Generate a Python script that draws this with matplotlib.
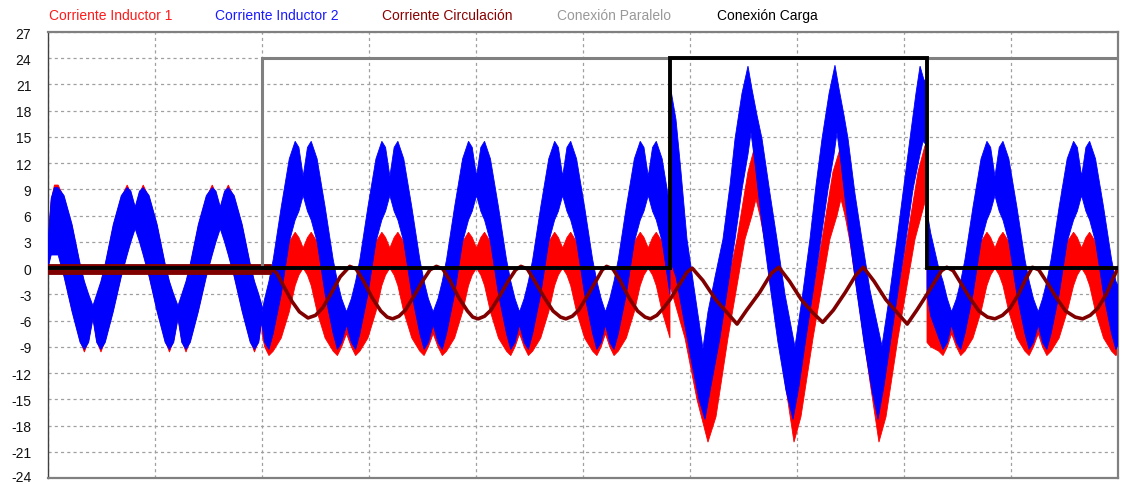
import numpy as np
import matplotlib
matplotlib.use("Agg")
import matplotlib.pyplot as plt
import matplotlib.transforms as mtransforms

plt.rcParams['font.family'] = ['Liberation Sans', 'DejaVu Sans']

# ---------------- data (time in arbitrary units, 10 per division) ----------------
series_names = ["Corriente Inductor 1", "Corriente Inductor 2", "Corriente Circulación",
                "Conexión Paralelo", "Conexión Carga"]
y_ticks = list(range(-24, 28, 3))

# Inductor 2 (blue) ripple envelope, before load connection
blue_t_AB = [0.0, 0.3, 0.6, 0.95, 1.5, 2.25, 3.0, 3.4, 3.8, 4.2,
             4.55, 4.95, 5.35, 6.1, 6.85, 7.4, 7.75, 8.15, 8.55, 8.9, 9.45, 10.2, 10.95, 11.35, 11.75, 12.15,
             12.5, 12.9, 13.3, 14.05, 14.8, 15.35, 15.7, 16.1, 16.5, 16.85, 17.4, 18.15, 18.9, 19.3, 19.7, 20.0,
             20.0, 20.25, 20.65, 21.05, 21.8, 22.55, 23.1, 23.45, 23.85, 24.25, 24.6, 25.15, 25.9, 26.65, 27.05, 27.45,
             27.9, 28.35, 28.75, 29.15, 29.9, 30.65, 31.2, 31.55, 31.95, 32.35, 32.7, 33.25, 34.0, 34.75, 35.15, 35.55,
             36.0, 36.45, 36.85, 37.25, 38.0, 38.75, 39.3, 39.65, 40.05, 40.45, 40.8, 41.35, 42.1, 42.85, 43.25, 43.65,
             44.07, 44.5, 44.9, 45.3, 46.05, 46.8, 47.35, 47.7, 48.1, 48.5, 48.85, 49.4, 50.15, 50.9, 51.3, 51.7,
             52.1, 52.5, 52.9, 53.3, 54.05, 54.8, 55.35, 55.7, 56.1, 56.5, 56.85, 57.4, 58.13]
blue_hi_AB = [3.0, 8.0, 9.2, 9.2, 8.3, 5.0, 0.5, -1.5, -3.0, -4.3,
              -3.0, -1.5, 0.5, 5.0, 8.3, 9.2, 8.8, 7.0, 8.8, 9.2, 8.3, 5.0, 0.5, -1.5, -3.0, -4.3,
              -3.0, -1.5, 0.5, 5.0, 8.3, 9.2, 8.8, 7.0, 8.8, 9.2, 8.3, 5.0, 0.5, -1.5, -3.0, -4.3,
              -5.0, -3.5, -1.5, 1.0, 7.0, 12.5, 14.5, 13.8, 10.5, 13.8, 14.5, 12.5, 7.0, 1.0, -1.5, -3.5,
              -5.0, -3.5, -1.5, 1.0, 7.0, 12.5, 14.5, 13.8, 10.5, 13.8, 14.5, 12.5, 7.0, 1.0, -1.5, -3.5,
              -5.0, -3.5, -1.5, 1.0, 7.0, 12.5, 14.5, 13.8, 10.5, 13.8, 14.5, 12.5, 7.0, 1.0, -1.5, -3.5,
              -5.0, -3.5, -1.5, 1.0, 7.0, 12.5, 14.5, 13.8, 10.5, 13.8, 14.5, 12.5, 7.0, 1.0, -1.5, -3.5,
              -5.0, -3.5, -1.5, 1.0, 7.0, 12.5, 14.5, 13.8, 10.5, 13.8, 14.5, 12.5, 7.0]
blue_lo_AB = [0.0, 1.5, 1.5, 1.5, -1.0, -5.0, -8.5, -9.3, -8.5, -5.8,
              -8.5, -9.3, -8.5, -5.0, -1.0, 1.5, 3.0, 4.5, 3.0, 1.5, -1.0, -5.0, -8.5, -9.3, -8.5, -5.8,
              -8.5, -9.3, -8.5, -5.0, -1.0, 1.5, 3.0, 4.5, 3.0, 1.5, -1.0, -5.0, -8.5, -9.3, -8.5, -5.8,
              -6.5, -8.5, -9.3, -7.5, -3.0, 3.0, 5.5, 6.5, 8.3, 6.5, 5.5, 3.0, -3.0, -7.5, -9.3, -8.5,
              -6.5, -8.5, -9.3, -7.5, -3.0, 3.0, 5.5, 6.5, 8.3, 6.5, 5.5, 3.0, -3.0, -7.5, -9.3, -8.5,
              -6.5, -8.5, -9.3, -7.5, -3.0, 3.0, 5.5, 6.5, 8.3, 6.5, 5.5, 3.0, -3.0, -7.5, -9.3, -8.5,
              -6.5, -8.5, -9.3, -7.5, -3.0, 3.0, 5.5, 6.5, 8.3, 6.5, 5.5, 3.0, -3.0, -7.5, -9.3, -8.5,
              -6.5, -8.5, -9.3, -7.5, -3.0, 3.0, 5.5, 6.5, 8.3, 6.5, 5.5, 3.0, -3.0]

# Inductor 1 (red) envelope, same instants
red_hi_AB = [2.75, 7.75, 9.5, 9.5, 8.05, 4.75, 0.25, -1.75, -3.25, -4.55,
             -3.25, -1.75, 0.25, 4.75, 8.05, 9.5, 8.55, 6.75, 8.55, 9.5, 8.05, 4.75, 0.25, -1.75, -3.25, -4.55,
             -3.25, -1.75, 0.25, 4.75, 8.05, 9.5, 8.55, 6.75, 8.55, 9.5, 8.05, 4.75, 0.25, -1.75, -3.25, -4.55,
             -6.0, -5.5, -5.0, -3.0, 0.5, 3.0, 4.1, 3.5, 2.3, 3.5, 4.1, 3.0, 0.5, -3.0, -5.0, -5.5,
             -6.0, -5.5, -5.0, -3.0, 0.5, 3.0, 4.1, 3.5, 2.3, 3.5, 4.1, 3.0, 0.5, -3.0, -5.0, -5.5,
             -6.0, -5.5, -5.0, -3.0, 0.5, 3.0, 4.1, 3.5, 2.3, 3.5, 4.1, 3.0, 0.5, -3.0, -5.0, -5.5,
             -6.0, -5.5, -5.0, -3.0, 0.5, 3.0, 4.1, 3.5, 2.3, 3.5, 4.1, 3.0, 0.5, -3.0, -5.0, -5.5,
             -6.0, -5.5, -5.0, -3.0, 0.5, 3.0, 4.1, 3.5, 2.3, 3.5, 4.1, 3.0, 0.5]
red_lo_AB = [0.25, 1.75, 1.75, 1.75, -0.75, -4.75, -8.25, -9.6, -8.25, -5.55,
             -8.25, -9.6, -8.25, -4.75, -0.75, 1.75, 3.25, 4.75, 3.25, 1.75, -0.75, -4.75, -8.25, -9.6, -8.25, -5.55,
             -8.25, -9.6, -8.25, -4.75, -0.75, 1.75, 3.25, 4.75, 3.25, 1.75, -0.75, -4.75, -8.25, -9.6, -8.25, -5.55,
             -7.5, -9.0, -10.0, -9.5, -8.0, -5.0, -2.0, -0.8, 0.0, -0.8, -2.0, -5.0, -8.0, -9.5, -10.0, -9.0,
             -7.5, -9.0, -10.0, -9.5, -8.0, -5.0, -2.0, -0.8, 0.0, -0.8, -2.0, -5.0, -8.0, -9.5, -10.0, -9.0,
             -7.5, -9.0, -10.0, -9.5, -8.0, -5.0, -2.0, -0.8, 0.0, -0.8, -2.0, -5.0, -8.0, -9.5, -10.0, -9.0,
             -7.5, -9.0, -10.0, -9.5, -8.0, -5.0, -2.0, -0.8, 0.0, -0.8, -2.0, -5.0, -8.0, -9.5, -10.0, -9.0,
             -7.5, -9.0, -10.0, -9.5, -8.0, -5.0, -2.0, -0.8, 0.0, -0.8, -2.0, -5.0, -8.0]

# Load connected (blue)
blue_t_hi_C = [58.13, 58.69, 59.16, 59.72, 60.47, 61.21, 61.68, 62.34, 63.08, 63.74, 64.21, 64.86, 65.42, 65.79,
               66.26, 66.73, 67.48, 68.13, 68.88, 69.81, 70.47, 71.21, 71.78, 72.34, 73.0, 73.55, 73.93, 74.39,
               74.77, 75.42, 76.07, 76.82, 77.94, 78.6, 79.35, 80.0, 80.56, 81.12, 81.5, 81.87, 82.15]
blue_hi_C = [21.0, 17.0, 11.0, 3.3, -3.0, -9.2, -5.0, -1.0, 3.3, 9.5, 14.8, 20.0, 23.1, 20.5,
             17.5, 14.8, 8.5, 3.3, -3.0, -9.0, -3.5, 3.3, 9.5, 14.8, 20.0, 23.2, 20.5, 17.5,
             14.8, 8.5, 3.3, -2.5, -8.9, -3.5, 3.3, 9.5, 14.8, 20.0, 23.1, 21.5, 21.5]
blue_t_lo_C = [58.13, 58.69, 59.44, 60.19, 60.84, 61.4, 61.96, 62.8, 63.55, 64.21, 64.86, 65.42, 65.7, 66.07,
               66.73, 67.48, 68.22, 68.97, 69.63, 70.19, 70.84, 71.59, 72.24, 72.9, 73.46, 73.74, 74.11, 74.77,
               75.51, 76.26, 77.01, 77.57, 78.13, 78.79, 79.53, 80.19, 80.84, 81.5, 81.78, 82.15]
blue_lo_C = [1.0, -1.0, -6.0, -11.0, -15.0, -17.3, -13.5, -8.0, -2.0, 3.3, 9.0, 13.0, 15.5, 12.0,
             5.0, -2.0, -8.5, -14.0, -17.3, -13.5, -8.0, -2.0, 3.3, 9.0, 13.0, 15.5, 12.0, 5.0,
             -2.0, -8.5, -14.0, -17.3, -13.5, -8.0, -2.0, 3.3, 9.0, 13.0, 14.5, 14.0]

# Load connected (red)
red_t_hi_C = [58.13, 58.41, 60.0, 60.93, 61.68, 62.8, 64.39, 65.42, 66.07, 66.54, 67.48, 68.41, 69.35, 69.91,
              70.75, 72.34, 73.36, 74.11, 74.58, 75.51, 76.45, 77.38, 77.94, 78.69, 80.28, 81.31, 81.96, 82.15]
red_hi_C = [10.0, 10.0, 0.0, -10.0, -15.0, -6.0, 3.3, 11.0, 14.0, 12.0, 4.0, -4.0, -12.0, -15.0,
            -8.0, 3.3, 11.0, 14.0, 12.0, 4.0, -4.0, -12.0, -15.0, -8.0, 3.3, 11.0, 14.0, 14.0]
red_t_lo_C = [58.13, 59.53, 60.65, 61.68, 62.43, 63.55, 65.14, 65.79, 66.17, 66.54, 67.01, 67.94, 68.88, 69.72,
              70.37, 71.5, 73.08, 73.74, 74.11, 74.49, 74.95, 75.89, 76.82, 77.66, 78.32, 79.44, 81.03, 82.06, 82.15]
red_lo_C = [-2.0, -8.0, -15.0, -19.9, -17.0, -8.0, 3.3, 6.0, 7.9, 6.0, 3.0, -5.0, -13.0, -19.9,
            -17.0, -8.0, 3.3, 6.0, 7.9, 6.0, 3.0, -5.0, -13.0, -19.9, -17.0, -8.0, 3.3, 8.0, 8.0]

# Load disconnected again
blue_t_D = [82.15, 82.5, 83.25, 83.65, 84.05, 84.45,
            84.9, 85.3, 85.7, 86.45, 87.2, 87.75, 88.1, 88.5, 88.9, 89.25, 89.8, 90.55, 91.3, 91.7, 92.1,
            92.55, 92.95, 93.35, 93.75, 94.5, 95.25, 95.85, 96.2, 96.6, 97.0, 97.35, 97.9, 98.65, 99.4, 99.8,
            100.0]
blue_hi_D = [6.5, 4.0, 0.0, -1.5, -3.5, -5.0,
             -3.5, -1.5, 1.0, 7.0, 12.5, 14.5, 13.8, 10.5, 13.8, 14.5, 12.5, 7.0, 1.0, -1.5, -3.5,
             -5.0, -3.5, -1.5, 1.0, 7.0, 12.5, 14.5, 13.8, 10.5, 13.8, 14.5, 12.5, 7.0, 1.0, -1.5,
             -2.0]
blue_lo_D = [-3.0, -5.5, -8.0, -9.3, -8.5, -6.5,
             -8.5, -9.3, -7.5, -3.0, 3.0, 5.5, 6.5, 8.3, 6.5, 5.5, 3.0, -3.0, -7.5, -9.3, -8.5,
             -6.5, -8.5, -9.3, -7.5, -3.0, 3.0, 5.5, 6.5, 8.3, 6.5, 5.5, 3.0, -3.0, -7.5, -9.3,
             -8.8]
red_hi_D = [0.0, -1.0, -3.0, -5.0, -5.5, -6.0,
            -5.5, -5.0, -3.0, 0.5, 3.0, 4.1, 3.5, 2.3, 3.5, 4.1, 3.0, 0.5, -3.0, -5.0, -5.5,
            -6.0, -5.5, -5.0, -3.0, 0.5, 3.0, 4.1, 3.5, 2.3, 3.5, 4.1, 3.0, 0.5, -3.0, -5.0,
            -5.2]
red_lo_D = [-8.5, -9.0, -9.5, -10.0, -9.0, -7.5,
            -9.0, -10.0, -9.5, -8.0, -5.0, -2.0, -0.8, 0.0, -0.8, -2.0, -5.0, -8.0, -9.5, -10.0, -9.0,
            -7.5, -9.0, -10.0, -9.5, -8.0, -5.0, -2.0, -0.8, 0.0, -0.8, -2.0, -5.0, -8.0, -9.5, -10.0,
            -9.8]

# Circulating current
circ_t = [0.0, 20.0, 20.8, 21.4, 22.0, 22.8, 23.5, 24.3, 25.0, 25.7, 26.5, 27.3,
          28.2, 28.8, 29.5, 30.3, 31.1, 31.7, 32.2, 32.8, 33.4, 34.2, 35.0, 35.7,
          36.3, 36.9, 37.6, 38.4, 39.2, 39.7, 40.2, 40.8, 41.4, 42.2, 43.0, 43.7,
          44.2, 44.8, 45.5, 46.4, 47.2, 47.9, 48.4, 49.0, 49.6, 50.4, 51.2, 51.8,
          52.2, 52.8, 53.5, 54.3, 55.1, 55.8, 56.3, 56.9, 57.5, 58.13,
          59.0, 59.7, 60.2, 61.2, 62.4, 63.4, 64.4, 65.3, 66.5, 67.6, 68.3, 69.3, 70.4, 71.4, 72.4, 73.4,
          74.5, 75.5, 76.2, 77.2, 78.3, 79.3, 80.3, 81.2, 82.15,
          83.0, 83.5, 84.0, 84.6, 85.3, 86.2, 87.0, 87.8, 88.5, 89.2, 89.9, 90.7, 91.4,
          92.0, 92.6, 93.4, 94.3, 95.1, 96.0, 96.7, 97.4, 98.1, 98.9, 99.6, 100.0]
circ_v = [-0.1, -0.1, 0.0, -0.6, -2.0, -3.8, -5.0, -5.7, -5.4, -4.5, -2.8, -1.0,
          0.2, -0.1, -1.5, -3.4, -4.9, -5.6, -5.8, -5.5, -4.8, -3.2, -1.5, -0.2,
          0.2, -0.1, -1.5, -3.4, -4.9, -5.6, -5.8, -5.5, -4.8, -3.2, -1.5, -0.2,
          0.2, -0.1, -1.5, -3.4, -4.9, -5.6, -5.8, -5.5, -4.8, -3.2, -1.5, -0.2,
          0.2, -0.1, -1.5, -3.4, -4.9, -5.6, -5.8, -5.4, -4.6, -3.6,
          -1.9, -0.5, 0.0, -1.4, -3.6, -5.0, -6.4, -4.8, -2.8, -0.6, 0.1, -1.5, -3.6, -5.0, -6.2, -4.8,
          -2.8, -0.8, 0.1, -1.5, -3.6, -5.0, -6.4, -4.8, -3.0,
          -1.3, -0.3, 0.1, -0.3, -1.7, -3.5, -4.9, -5.6, -5.8, -5.4, -4.6, -3.0, -1.2,
          0.1, -0.2, -1.7, -3.5, -4.9, -5.6, -5.8, -5.4, -4.6, -3.0, -1.0, 0.0]
circ_noise_t = [0.0, 20.8]
circ_noise_hi = [0.5, 0.5]
circ_noise_lo = [-0.7, -0.7]

# Switch signals
paralelo_t = [0.0, 20.0, 20.0, 100.0]
paralelo_v = [0.0, 0.0, 24.0, 24.0]
carga_t = [0.0, 58.13, 58.13, 82.15, 82.15, 100.0]
carga_v = [0.0, 0.0, 24.0, 24.0, 0.0, 0.0]

# ---------------- drawing ----------------
colors = ['#FF0000', '#0000FF', '#800000', '#808080', '#000000']
text_colors = ['#FF1A1A', '#1A1AFF', '#8B0000', '#999999', '#000000']

fig = plt.figure(figsize=(11.23, 4.85), dpi=100)
ax = fig.add_axes([48 / 1123, 6 / 485, 1070 / 1123, 446 / 485])


def band(t_hi, v_hi, t_lo, v_lo, color, z):
    assert len(t_hi) == len(v_hi) and len(t_lo) == len(v_lo)
    x = np.concatenate([np.asarray(t_hi, float), np.asarray(t_lo, float)[::-1]])
    y = np.concatenate([np.asarray(v_hi, float), np.asarray(v_lo, float)[::-1]])
    ax.fill(x, y, facecolor=color, edgecolor=color, lw=0.6, zorder=z)


band(np.concatenate([blue_t_AB, red_t_hi_C, blue_t_D]),
     np.concatenate([red_hi_AB, red_hi_C, red_hi_D]),
     np.concatenate([blue_t_AB, red_t_lo_C, blue_t_D]),
     np.concatenate([red_lo_AB, red_lo_C, red_lo_D]), colors[0], 2)

band(np.concatenate([blue_t_AB, blue_t_hi_C, blue_t_D]),
     np.concatenate([blue_hi_AB, blue_hi_C, blue_hi_D]),
     np.concatenate([blue_t_AB, blue_t_lo_C, blue_t_D]),
     np.concatenate([blue_lo_AB, blue_lo_C, blue_lo_D]), colors[1], 3)

band(circ_noise_t, circ_noise_hi, circ_noise_t, circ_noise_lo, colors[2], 4)
assert len(circ_t) == len(circ_v)
ax.plot(circ_t, circ_v, color=colors[2], lw=2.6, zorder=4, solid_joinstyle='round')
ax.plot(paralelo_t, paralelo_v, color=colors[3], lw=2.2, zorder=5, solid_joinstyle='miter')
ax.plot(carga_t, carga_v, color=colors[4], lw=2.8, zorder=6, solid_joinstyle='miter')

ax.set_xlim(0, 100)
ax.set_ylim(-24, 27)
ax.set_yticks(y_ticks)
ax.set_yticklabels([str(v) for v in y_ticks])
ax.set_xticks(np.arange(0, 101, 10))
ax.set_xticklabels([])
ax.tick_params(axis='both', length=0)
ax.tick_params(axis='y', pad=12, labelsize=10, labelcolor='#111111')
ax.set_axisbelow(True)
ax.grid(True, color='#A0A0A0', lw=0.9, linestyle=(0, (2.5, 2.5)))

# keep the lowest label fully inside the canvas
lowest = ax.get_yticklabels()[0]
lowest.set_transform(lowest.get_transform() +
                     mtransforms.ScaledTranslation(0, 2 / 72, fig.dpi_scale_trans))

ax.spines['left'].set_color('#404040')
ax.spines['left'].set_linewidth(1.0)
for s in ['top', 'right', 'bottom']:
    ax.spines[s].set_color('#808080')
    ax.spines[s].set_linewidth(1.6)

legend_x = [49, 215, 382, 557, 717]
for name, xpix, col in zip(series_names, legend_x, text_colors):
    fig.text(xpix / 1123, 1 - 16 / 485, name, color=col, fontsize=10, ha='left', va='center')

fig.savefig('out.png', dpi=100)
